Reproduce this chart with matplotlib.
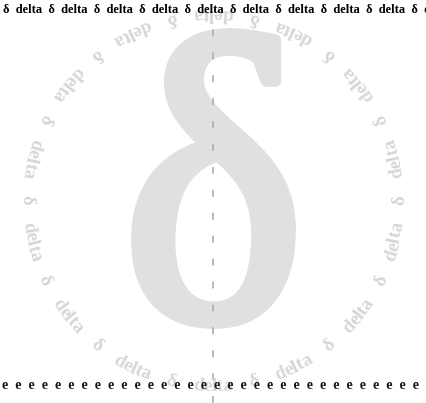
import numpy as np
import matplotlib
matplotlib.use("Agg")
import matplotlib.pyplot as plt
from matplotlib.font_manager import FontProperties
from matplotlib.textpath import TextPath, text_to_path
from matplotlib.patches import PathPatch
from matplotlib.transforms import Affine2D

# text content
ring_words = ["delta", "δ"]
ring_pairs = 14
top_words = ["δ", "delta"]
top_repeat = 12
bottom_char = "e"
bottom_repeat = 40
big_glyph = "δ"

W, H = 427, 403
cx, cy = 213, 203        # ring centre (pixels, y up)
ring_r = 191             # baseline radius
ring_size = 13.5
px = 100 / 72.0

serif_b = FontProperties(family="Liberation Serif", weight="bold")

fig = plt.figure(figsize=(W / 100, H / 100), dpi=100)
ax = fig.add_axes([0, 0, 1, 1])
ax.set_xlim(0, W)
ax.set_ylim(0, H)
ax.axis("off")

# big background delta, fitted to a box (stroked to look heavier)
big_fp = FontProperties(family="Liberation Serif", weight="normal")
tp = TextPath((0, 0), big_glyph, size=100, prop=big_fp)
ext = tp.get_extents()
box = (137, 80, 290, 369)
sx = (box[2] - box[0]) / ext.width
sy = (box[3] - box[1]) / ext.height
tr = Affine2D().translate(-ext.x0, -ext.y0).scale(sx, sy).translate(box[0], box[1])
ax.add_patch(PathPatch(tr.transform_path(tp), facecolor="#e0e0e0", edgecolor="#e0e0e0",
                       lw=8.5, joinstyle="round", zorder=1))

# dashed centre line
plt.rcParams["lines.scale_dashes"] = False
ax.plot([cx, cx], [0, H - 27], color="#b3b3b3", lw=1.3, linestyle=(0, (5, 11.5)), zorder=2)

# ring text, one glyph at a time
fp_ring = serif_b.copy()
fp_ring.set_size(ring_size)


def width(s):
    if not s:
        return 0.0
    w, h, d = text_to_path.get_text_width_height_descent(s, fp_ring, ismath=False)
    return w * px


step = 360.0 / ring_pairs
for k in range(ring_pairs):
    for j, word in enumerate(ring_words):
        theta = -90 + (k + 0.5 * j) * step
        total = width(word)
        for i, ch in enumerate(word):
            off = (width(word[:i]) + width(word[:i + 1])) / 2 - total / 2
            a = np.radians(theta) + off / ring_r
            ax.text(cx + ring_r * np.cos(a), cy + ring_r * np.sin(a), ch,
                    fontproperties=fp_ring, color="#d6d6d6",
                    rotation=np.degrees(a) + 90, rotation_mode="anchor",
                    ha="center", va="baseline", zorder=3)

# top row
top_line = ("  ".join(top_words) + "  ") * top_repeat
ax.text(3, H - 13, top_line, fontproperties=serif_b, fontsize=9, color="black",
        ha="left", va="baseline", zorder=4, clip_on=True)

# bottom row
bottom_line = (bottom_char + "  ") * bottom_repeat
ax.text(2, H - 389, bottom_line, fontproperties=serif_b, fontsize=10, color="#111111",
        ha="left", va="baseline", zorder=4, clip_on=True)

fig.savefig("out.png", dpi=100)
